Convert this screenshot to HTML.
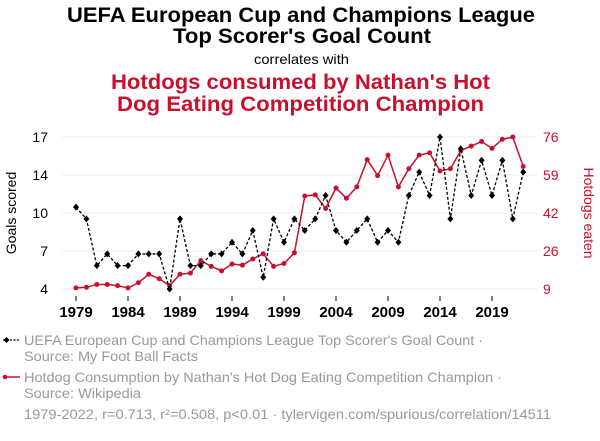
<!DOCTYPE html>
<html><head><meta charset="utf-8"><style>
body{margin:0;background:#fff;font-family:"Liberation Sans",sans-serif;}
svg text{font-family:"Liberation Sans",sans-serif;}
</style></head><body>
<svg width="600" height="436" viewBox="0 0 600 436">
<text x="67" y="22" textLength="468" lengthAdjust="spacingAndGlyphs" font-size="21" font-weight="bold" fill="#000">UEFA European Cup and Champions League</text>
<text x="173" y="43" textLength="258" lengthAdjust="spacingAndGlyphs" font-size="21" font-weight="bold" fill="#000">Top Scorer's Goal Count</text>
<text x="254" y="64" textLength="95" lengthAdjust="spacingAndGlyphs" font-size="14" fill="#000">correlates with</text>
<text x="111" y="89" textLength="379" lengthAdjust="spacingAndGlyphs" font-size="21" font-weight="bold" fill="#c8102e">Hotdogs consumed by Nathan's Hot</text>
<text x="117" y="111" textLength="367" lengthAdjust="spacingAndGlyphs" font-size="21" font-weight="bold" fill="#c8102e">Dog Eating Competition Champion</text>
<g id="grid"></g><g id="axes"></g><g id="marks"></g>
<text transform="translate(16,213) rotate(-90)" text-anchor="middle" font-size="14" fill="#000">Goals scored</text>
<text transform="translate(584,213) rotate(90)" text-anchor="middle" font-size="14" fill="#c8102e">Hotdogs eaten</text>
<g>
<line x1="3" y1="340" x2="20" y2="340" stroke="#000" stroke-dasharray="2,1.5" stroke-width="1.3"/>
<path d="M6.5,337 L9.5,340 L6.5,343 L3.5,340Z" fill="#000"/>
<text x="24" y="345" textLength="459" lengthAdjust="spacingAndGlyphs" font-size="14" fill="#999">UEFA European Cup and Champions League Top Scorer's Goal Count ·</text>
<text x="24" y="361" textLength="174" lengthAdjust="spacingAndGlyphs" font-size="14" fill="#999">Source: My Foot Ball Facts</text></g>
<g>
<line x1="3" y1="377" x2="20" y2="377" stroke="#c8102e" stroke-width="1.5"/>
<circle cx="5" cy="377" r="2.3" fill="#c8102e"/>
<text x="24" y="382" textLength="478" lengthAdjust="spacingAndGlyphs" font-size="14" fill="#999">Hotdog Consumption by Nathan's Hot Dog Eating Competition Champion ·</text>
<text x="24" y="398" textLength="117" lengthAdjust="spacingAndGlyphs" font-size="14" fill="#999">Source: Wikipedia</text></g>
<text x="24" y="419" textLength="527" lengthAdjust="spacingAndGlyphs" font-size="14" fill="#999">1979-2022, r=0.713, r²=0.508, p&lt;0.01 · tylervigen.com/spurious/correlation/14511</text>
</svg>
<script>
const years=[];for(let y=1979;y<=2022;y++)years.push(y);
const goals=[11,10,6,7,6,6,7,7,7,4,10,6,6,7,7,8,7,9,5,10,8,10,9,10,12,9,8,9,10,8,9,8,12,14,12,17,10,16,12,15,12,15,10,14];
const hotdogs=[9.5,9.75,11,11,10.5,9.5,11.75,15.5,13.5,10.5,15.5,16,21.5,19,17,20,19.5,22.25,24.5,19,20.25,25,50,50.5,44.5,53.5,49,54,66,59,68,54,62,68,69,61,62,70,72,74,71,75,76,63];
const leftTicks=[4,7.25,10.5,13.75,17];const leftLabels=["4","7","10","14","17"];
const rightTicks=[9,25.75,42.5,59.25,76];const rightLabels=["9","26","42","59","76"];
const xTicks=[1979,1984,1989,1994,1999,2004,2009,2014,2019];
const NS="http://www.w3.org/2000/svg";
const x=y=>76+(y-1979)*10.4;
const yL=v=>289-(v-4)*(152/13);
const yR=v=>289-(v-9)*(152/67);
function mk(t,a,p){const e=document.createElementNS(NS,t);for(const k in a)e.setAttribute(k,a[k]);p.appendChild(e);return e;}
const grid=document.getElementById('grid'),axes=document.getElementById('axes'),marks=document.getElementById('marks');
leftTicks.forEach((v,i)=>{
 const g=mk('line',{x1:62,x2:537,y1:yL(v),y2:yL(v),stroke:'#eee','stroke-width':1},grid);
 
 
 const t=mk('text',{x:48,y:yL(v)+5,'text-anchor':'end','font-size':14,fill:'#000'},axes);t.textContent=leftLabels[i];
 
 
});
rightTicks.forEach((v,i)=>{
 const t=mk('text',{x:543,y:yR(v)+5,'font-size':14,fill:'#c8102e'},axes);t.textContent=rightLabels[i];
 
 
});
xTicks.forEach(v=>{
 mk('line',{x1:x(v),x2:x(v),y1:296,y2:301,stroke:'#000'},axes);
 const t=mk('text',{x:x(v),y:317,'text-anchor':'middle','font-size':15,'font-weight':'bold',fill:'#000'},axes);t.textContent=v;
 
 
});
const rp=mk('polyline',{points:years.map((y,i)=>x(y)+','+yR(hotdogs[i])).join(' '),fill:'none',stroke:'#c8102e','stroke-width':1.5},marks);


years.forEach((y,i)=>{const c=mk('circle',{cx:x(y),cy:yR(hotdogs[i]),r:2.5,fill:'#c8102e'},marks);
 
 });
const bp=mk('polyline',{points:years.map((y,i)=>x(y)+','+yL(goals[i])).join(' '),fill:'none',stroke:'#000','stroke-width':1.3,'stroke-dasharray':'3,2'},marks);


years.forEach((y,i)=>{const cx=x(y),cy=yL(goals[i]);const d=mk('path',{d:`M${cx},${cy-3.5}L${cx+3},${cy}L${cx},${cy+3.5}L${cx-3},${cy}Z`,fill:'#000'},marks);
 
 });
</script>
</body></html>
